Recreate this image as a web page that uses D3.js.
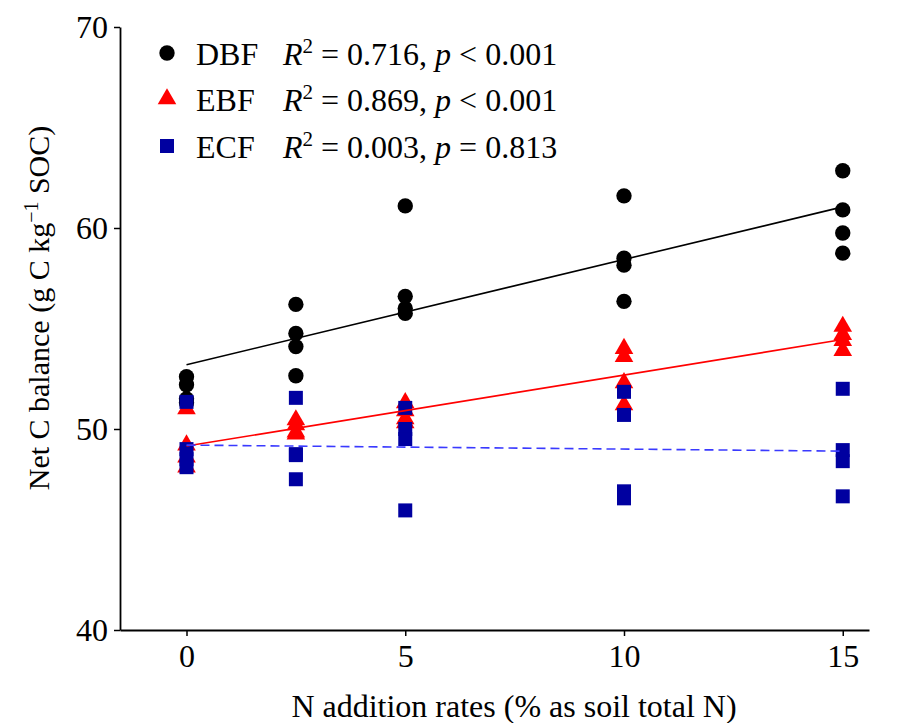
<!DOCTYPE html>
<html lang="en">
<head>
    <meta charset="UTF-8">
    <title>Net C balance vs N addition</title>
    <script src="https://cdnjs.cloudflare.com/ajax/libs/d3/7.8.5/d3.min.js"></script>
    <style>
        body {
            margin: 0;
            background: #fff;
        }

        svg text {
            font-family: "Times New Roman", "Liberation Serif", serif;
            fill: #000;
        }
    </style>
</head>
<body>
    <svg id="chart" width="900" height="723"></svg>

    <script>
        // N addition rates (x positions of the measurement groups)
        const nRates = [0, 2.5, 5, 10, 15];

        // four replicate values per rate
        const dbfValues = [
            [52.6, 52.2, 51.5, 51.3],
            [56.2, 54.75, 54.1, 52.65],
            [61.1, 56.6, 56.0, 55.75],
            [61.6, 58.5, 58.15, 56.35],
            [62.85, 60.9, 59.75, 58.75]
        ];
        const ebfValues = [
            [51.0, 49.2, 48.6, 48.1],
            [50.45, 50.2, 49.85, 49.75],
            [51.3, 50.9, 50.5, 50.3],
            [54.0, 53.6, 52.3, 51.2],
            [55.1, 54.7, 54.4, 53.9]
        ];
        const ecfValues = [
            [51.35, 49.0, 48.5, 48.1],
            [51.55, 48.75, 48.7, 47.5],
            [51.05, 50.0, 49.5, 45.95],
            [51.85, 50.7, 46.9, 46.55],
            [52.0, 48.95, 48.4, 46.65]
        ];

        // fitted lines: value at rate 0 and at rate 15
        const seriesNames = ["DBF", "EBF", "ECF"];
        const fitAt0 = [53.2, 49.15, 49.2];
        const fitAt15 = [61.05, 54.45, 48.9];
        const rSquared = ["0.716", "0.869", "0.003"];
        const pText = ["< 0.001", "< 0.001", "= 0.813"];

        const xTicks = [0, 5, 10, 15];
        const yTicks = [40, 50, 60, 70];

        const svg = d3.select("#chart");

        const x = d3.scaleLinear().domain([-1.52, 15.6]).range([120, 869]);
        const y = d3.scaleLinear().domain([40, 70]).range([630, 27]);

        const colors = ["#000000", "#ff0000", "#0000a0"];
        const lineColors = ["#000000", "#ff0000", "#3a3aff"];
        const shapes = [d3.symbolCircle, d3.symbolTriangle, d3.symbolSquare];
        const sizes = [185, 150, 196];

        // axes
        const xAxis = svg.append("g")
            .attr("transform", "translate(0,630)")
            .call(d3.axisBottom(x).tickValues(xTicks).tickSize(6).tickPadding(8).tickSizeOuter(0));
        const yAxis = svg.append("g")
            .attr("transform", "translate(120,0)")
            .call(d3.axisLeft(y).tickValues(yTicks).tickSize(6).tickPadding(6).tickSizeOuter(0));

        [xAxis, yAxis].forEach(g => {
            g.select(".domain").attr("stroke", "#000").attr("stroke-width", 1.8);
            g.selectAll(".tick line").attr("stroke", "#000").attr("stroke-width", 1.5);
            g.selectAll(".tick text")
                .style("font-family", "'Times New Roman', 'Liberation Serif', serif")
                .style("font-size", "32px")
                .attr("fill", "#000");
        });
        yAxis.selectAll(".tick text").attr("dy", "0.34em");

        // axis titles
        svg.append("text")
            .attr("x", 514)
            .attr("y", 717)
            .attr("text-anchor", "middle")
            .style("font-size", "32px")
            .text("N addition rates (% as soil total N)");

        const yTitle = svg.append("text")
            .attr("transform", "translate(49,308) rotate(-90)")
            .attr("text-anchor", "middle")
            .style("font-size", "30px");
        yTitle.append("tspan").text("Net C balance (g C kg");
        yTitle.append("tspan").attr("dy", -11).style("font-size", "20px").text("\u22121");
        yTitle.append("tspan").attr("dy", 11).text(" SOC)");

        // points: circles first, then triangles, then squares on top
        const allValues = [dbfValues, ebfValues, ecfValues];
        allValues.forEach((groups, s) => {
            const pts = [];
            groups.forEach((vals, i) => vals.forEach(v => pts.push({ x: nRates[i], v: v })));
            svg.append("g")
                .selectAll("path")
                .data(pts)
                .join("path")
                .attr("transform", d => `translate(${x(d.x)},${y(d.v)})`)
                .attr("d", d3.symbol().type(shapes[s]).size(sizes[s]))
                .attr("fill", colors[s]);
        });

        // regression lines
        seriesNames.forEach((name, s) => {
            svg.append("line")
                .attr("x1", x(0)).attr("y1", y(fitAt0[s]))
                .attr("x2", x(15)).attr("y2", y(fitAt15[s]))
                .attr("stroke", lineColors[s])
                .attr("stroke-width", 1.6)
                .attr("stroke-dasharray", s === 2 ? "9,5" : null);
        });

        // legend
        const legendY = [53, 99, 146];
        const legend = svg.append("g");
        seriesNames.forEach((name, s) => {
            legend.append("path")
                .attr("transform", `translate(167,${legendY[s]})`)
                .attr("d", d3.symbol().type(shapes[s]).size(sizes[s]))
                .attr("fill", colors[s]);
            legend.append("text")
                .attr("x", 196)
                .attr("y", legendY[s] + 12)
                .style("font-size", "32px")
                .text(name);
            const t = legend.append("text")
                .attr("x", 283)
                .attr("y", legendY[s] + 12)
                .style("font-size", "32px");
            t.append("tspan").style("font-style", "italic").text("R");
            t.append("tspan").attr("dy", -12).style("font-size", "21px").text("2");
            t.append("tspan").attr("dy", 12).text(` = ${rSquared[s]}, `);
            t.append("tspan").style("font-style", "italic").text("p");
            t.append("tspan").text(` ${pText[s]}`);
        });
    </script>
</body>
</html>
